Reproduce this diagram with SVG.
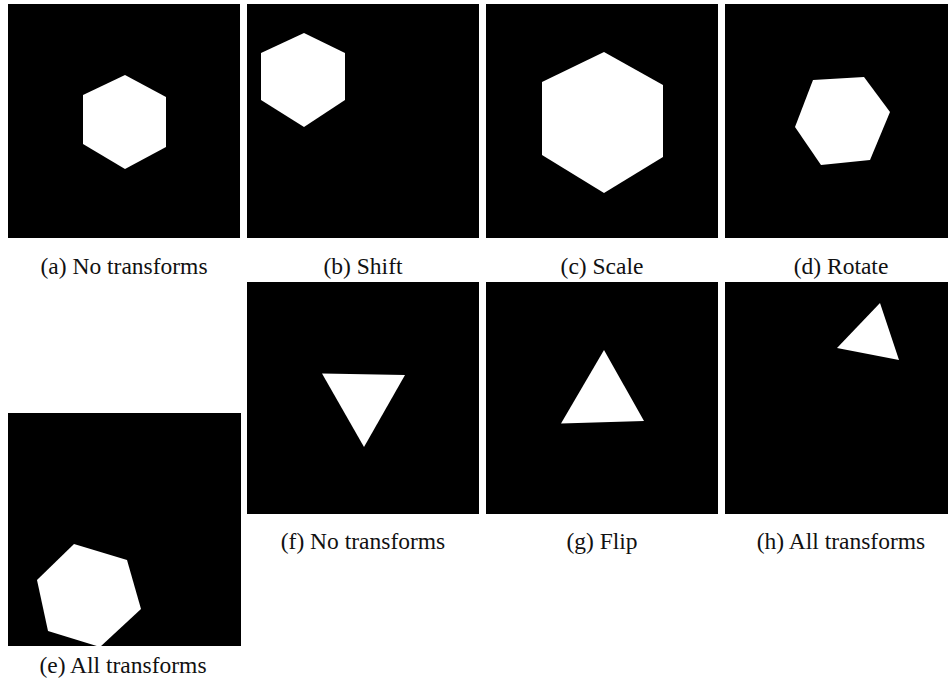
<svg xmlns="http://www.w3.org/2000/svg" width="948" height="688" viewBox="0 0 948 688">
<style>
.bg{fill:#000}
.sh{fill:#fff}
.lb{font-family:"Liberation Serif","Times New Roman",serif;font-size:23.5px;fill:#111;text-anchor:middle}
</style>
<defs>
<clipPath id="ce"><rect x="8" y="413" width="233" height="233"/></clipPath>
<clipPath id="cd"><rect x="725" y="4" width="232" height="234"/></clipPath>
</defs>
<rect width="948" height="688" fill="#fff"/>
<g id="panel-a">
<rect class="bg" x="8" y="4" width="232" height="234"/>
<polygon class="sh" points="125,75 83,95 83,144 125,169 166,147 166,97"/>
<text class="lb" x="124" y="274">(a) No transforms</text>
</g>
<g id="panel-b">
<rect class="bg" x="247" y="4" width="232" height="234"/>
<polygon class="sh" points="304,33 261,53 261,100 304,127 345,100 345,53"/>
<text class="lb" x="363" y="274">(b) Shift</text>
</g>
<g id="panel-c">
<rect class="bg" x="486" y="4" width="232" height="234"/>
<polygon class="sh" points="604,52 542,82 542,155 604,193 663,157 663,85"/>
<text class="lb" x="602" y="274">(c) Scale</text>
</g>
<g id="panel-d">
<rect class="bg" x="725" y="4" width="232" height="234"/>
<polygon class="sh" points="813,80 864,77 890,112 870,160 821,165 795,127"/>
<text class="lb" x="841" y="274">(d) Rotate</text>
</g>
<g id="panel-e">
<rect class="bg" x="8" y="413" width="233" height="233"/>
<polygon class="sh" clip-path="url(#ce)" points="74,544 127,560 141,609 100,647 48,631 37,580"/>
<text class="lb" x="123" y="673">(e) All transforms</text>
</g>
<g id="panel-f">
<rect class="bg" x="247" y="282" width="232" height="232"/>
<polygon class="sh" points="322,373.5 405,375 364,447"/>
<text class="lb" x="363" y="549">(f) No transforms</text>
</g>
<g id="panel-g">
<rect class="bg" x="486" y="282" width="232" height="232"/>
<polygon class="sh" points="604,350 561,423.5 644,421"/>
<text class="lb" x="602" y="549">(g) Flip</text>
</g>
<g id="panel-h">
<rect class="bg" x="725" y="282" width="232" height="232"/>
<polygon class="sh" points="880,303 837,348 899,360"/>
<text class="lb" x="841" y="549">(h) All transforms</text>
</g>
</svg>
